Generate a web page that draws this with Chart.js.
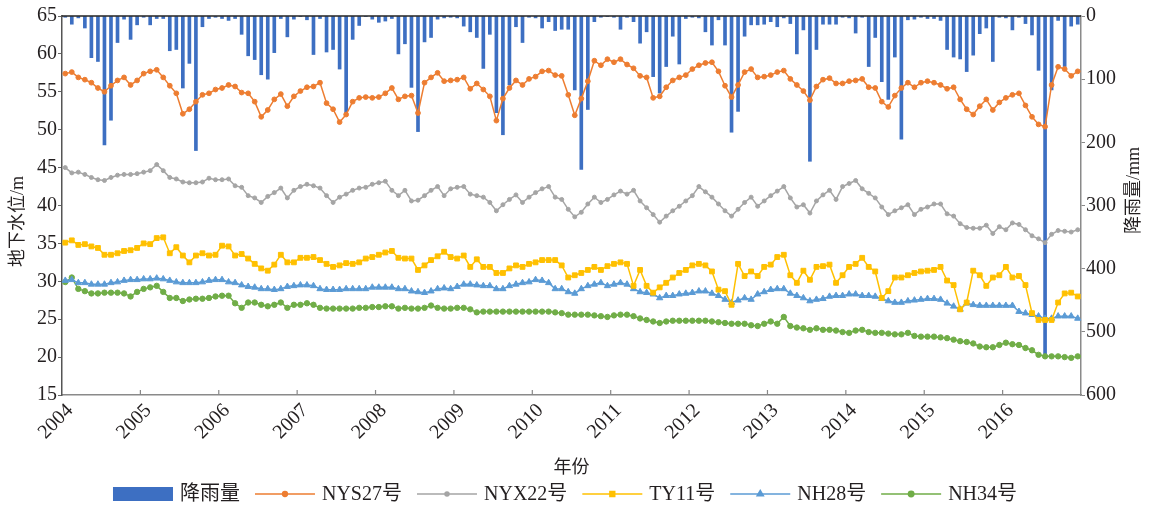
<!DOCTYPE html>
<html>
<head>
<meta charset="utf-8">
<script src="https://cdn.jsdelivr.net/npm/chart.js@4.4.1/dist/chart.umd.min.js"></script>
<style>
  html, body { margin: 0; padding: 0; background: #fff; }
  #wrap { width: 1154px; height: 510px; }
</style>
</head>
<body>
<div id="wrap"><canvas id="c" width="1154" height="510"></canvas></div>
<script>
// year ticks and monthly categories
const years = [2004, 2005, 2006, 2007, 2008, 2009, 2010, 2011, 2012, 2013, 2014, 2015, 2016];
const months = [];
years.forEach(y => { for (let m = 1; m <= 12; m++) months.push(y + '-' + String(m).padStart(2, '0')); });

// monthly rainfall, mm (right axis, reversed)
const rainfall = [
  2, 13, 3, 19, 66, 72, 204, 165, 42, 5, 37, 14,
  2, 14, 4, 4, 55, 53, 114, 75, 213, 17, 4, 2,
  4, 7, 4, 29, 63, 69, 93, 100, 58, 4, 33, 5,
  1, 6, 61, 4, 57, 53, 84, 154, 37, 15, 1, 5,
  10, 8, 4, 60, 44, 113, 183, 41, 34, 5, 3, 2,
  3, 16, 25, 34, 83, 29, 153, 188, 109, 17, 42, 2,
  3, 19, 9, 23, 21, 21, 117, 243, 148, 9, 2, 1,
  2, 21, 2, 9, 43, 25, 96, 122, 80, 32, 76, 4,
  2, 3, 25, 46, 6, 46, 184, 151, 32, 14, 14, 13,
  9, 17, 3, 12, 60, 22, 230, 53, 13, 13, 13, 2,
  3, 27, 2, 80, 34, 104, 132, 65, 195, 6, 5, 2,
  4, 4, 7, 53, 65, 68, 88, 62, 28, 19, 72, 2,
  3, 22, 2, 12, 30, 86, 535, 117, 7, 80, 16, 13
];

// groundwater levels, m (left axis)
const nys27 = [
  57.4, 57.6, 56.9, 56.6, 56.2, 55.5, 55.0, 55.8, 56.5, 56.9, 55.9, 56.5,
  57.4, 57.7, 57.9, 56.9, 55.8, 54.8, 52.1, 52.7, 53.7, 54.6, 54.8, 55.3,
  55.5, 55.9, 55.7, 54.9, 54.8, 53.7, 51.7, 52.6, 54.0, 54.7, 53.1, 54.4,
  55.1, 55.6, 55.7, 56.2, 53.5, 52.7, 51.0, 52.0, 53.7, 54.2, 54.3, 54.2,
  54.3, 54.8, 55.5, 54.0, 54.4, 54.5, 52.2, 56.2, 56.9, 57.5, 56.4, 56.5,
  56.6, 56.9, 55.4, 56.1, 55.3, 54.4, 51.2, 54.1, 55.5, 56.5, 55.9, 56.7,
  57.0, 57.7, 57.8, 57.2, 57.1, 54.6, 51.9, 54.1, 56.4, 59.1, 58.5, 59.3,
  58.9, 59.3, 58.6, 58.1, 57.1, 56.9, 54.2, 54.4, 55.6, 56.5, 56.9, 57.2,
  58.0, 58.5, 58.8, 58.9, 57.7, 55.8, 54.3, 55.9, 57.6, 58.0, 56.9, 57.0,
  57.2, 57.6, 57.8, 56.7, 55.9, 55.1, 53.9, 55.7, 56.6, 56.8, 56.1, 56.1,
  56.4, 56.5, 56.7, 55.6, 55.5, 53.7, 53.0, 54.5, 55.5, 56.2, 55.6, 56.2,
  56.4, 56.2, 55.9, 55.4, 55.6, 54.0, 52.7, 52.0, 53.1, 54.0, 52.6, 53.6,
  54.2, 54.6, 54.8, 53.2, 51.7, 50.7, 50.4, 55.9, 58.3, 58.0, 57.1, 57.7
];
const nyx22 = [
  45.0, 44.3, 44.4, 44.1, 43.7, 43.4, 43.3, 43.7, 44.0, 44.1, 44.1, 44.2,
  44.4, 44.6, 45.4, 44.6, 43.7, 43.5, 43.1, 43.0, 43.0, 43.1, 43.6, 43.4,
  43.4, 43.5, 42.6, 42.4, 41.3, 41.0, 40.4, 41.2, 41.7, 42.3, 41.0, 42.0,
  42.5, 42.8, 42.6, 42.3, 41.3, 40.4, 41.1, 41.5, 42.0, 42.3, 42.4, 42.8,
  43.0, 43.2, 42.0, 41.3, 42.0, 40.6, 40.7, 41.3, 42.0, 42.5, 41.3, 42.2,
  42.4, 42.5, 41.5, 41.3, 41.1, 40.4, 39.3, 40.1, 40.8, 41.4, 40.4, 41.1,
  41.7, 42.2, 42.5, 41.1, 40.8, 39.5, 38.5, 39.1, 40.2, 41.1, 40.4, 40.8,
  41.4, 41.9, 41.5, 42.0, 40.6, 39.7, 38.8, 37.8, 38.6, 39.3, 39.9, 40.6,
  41.3, 42.5, 41.8, 41.1, 40.2, 39.3, 38.6, 39.5, 40.4, 41.1, 39.9, 40.6,
  41.3, 41.9, 42.5, 41.0, 39.8, 40.1, 39.0, 40.6, 41.4, 42.0, 40.8, 42.5,
  42.9, 43.3, 42.2, 41.6, 41.0, 39.8, 38.8, 39.3, 39.7, 40.1, 38.8, 39.5,
  39.8, 40.2, 40.2, 38.9, 38.6, 37.6, 37.1, 37.0, 37.0, 37.4, 36.3, 37.2,
  36.8, 37.7, 37.5, 36.8, 36.0, 35.6, 35.1, 36.2, 36.7, 36.6, 36.5, 36.8
];
const ty11 = [
  35.1, 35.4, 34.8, 34.9, 34.6, 34.4, 33.5, 33.5, 33.7, 34.0, 34.1, 34.4,
  35.0, 34.9, 35.7, 35.8, 33.7, 34.5, 33.4, 32.5, 33.4, 33.7, 33.4, 33.5,
  34.7, 34.6, 33.4, 33.6, 33.0, 32.3, 31.7, 31.4, 32.2, 33.5, 32.5, 32.5,
  33.1, 33.1, 33.2, 32.8, 32.3, 31.9, 32.1, 32.4, 32.3, 32.5, 33.0, 33.2,
  33.5, 33.8, 34.0, 33.1, 33.0, 33.0, 31.5, 32.1, 32.8, 33.3, 33.9, 33.2,
  33.0, 33.4, 31.9, 32.9, 31.9, 31.9, 31.1, 31.1, 31.7, 32.1, 31.9, 32.3,
  32.5, 32.8, 32.8, 32.8, 32.1, 30.5, 30.8, 31.1, 31.5, 31.9, 31.5, 32.0,
  32.3, 32.5, 32.3, 29.4, 31.5, 29.4, 28.5, 29.2, 29.8, 30.5, 31.1, 31.5,
  32.1, 32.3, 32.1, 31.3, 28.9, 28.7, 26.9, 32.3, 30.7, 31.3, 30.7, 31.9,
  32.2, 33.2, 33.5, 30.8, 29.8, 31.4, 30.2, 31.9, 32.0, 32.2, 29.8, 30.8,
  31.9, 32.3, 33.1, 31.9, 31.3, 27.8, 28.7, 30.5, 30.5, 30.8, 31.1, 31.3,
  31.4, 31.5, 31.9, 30.1, 29.5, 26.3, 27.2, 31.4, 30.8, 29.4, 30.5, 30.8,
  31.9, 30.5, 30.7, 29.5, 25.8, 24.9, 24.9, 24.9, 27.2, 28.4, 28.5, 28.0
];
const nh28 = [
  30.1, 30.2, 29.8, 29.8, 29.6, 29.6, 29.6, 29.8, 29.9, 30.1, 30.2, 30.2,
  30.3, 30.3, 30.4, 30.3, 30.1, 29.9, 29.8, 29.8, 29.8, 29.9, 30.1, 30.2,
  30.2, 29.9, 29.8, 29.5, 29.3, 29.2, 29.0, 29.0, 28.9, 29.0, 29.3, 29.4,
  29.5, 29.5, 29.4, 29.0, 28.9, 28.9, 28.9, 29.0, 29.0, 29.0, 29.0, 29.2,
  29.2, 29.2, 29.2, 29.0, 29.0, 28.7, 28.6, 28.5, 28.7, 29.0, 29.1, 29.0,
  29.3, 29.6, 29.6, 29.5, 29.4, 29.4, 29.0, 29.0, 29.4, 29.6, 29.8, 29.9,
  30.2, 30.1, 29.8, 29.0, 29.0, 28.6, 28.4, 29.0, 29.4, 29.6, 29.8, 29.4,
  29.6, 29.8, 29.6, 29.0, 28.6, 28.5, 28.3, 27.8, 28.1, 28.1, 28.3, 28.4,
  28.5, 28.7, 28.7, 28.4, 28.1, 27.6, 27.2, 27.5, 27.8, 27.6, 28.3, 28.6,
  28.9, 29.0, 29.0, 28.4, 28.1, 27.8, 27.4, 27.6, 27.7, 28.0, 28.1, 28.1,
  28.3, 28.3, 28.1, 28.1, 28.0, 27.7, 27.4, 27.2, 27.2, 27.4, 27.5, 27.6,
  27.7, 27.7, 27.6, 27.1, 26.7, 26.3, 27.1, 26.9, 26.8, 26.8, 26.8, 26.8,
  26.8, 26.8, 26.0, 25.8, 25.6, 25.4, 25.1, 25.1, 25.4, 25.4, 25.4, 25.1
];
const nh34 = [
  29.9, 30.5, 29.0, 28.7, 28.4, 28.4, 28.5, 28.5, 28.5, 28.4, 28.0, 28.6,
  29.0, 29.2, 29.4, 28.6, 27.8, 27.8, 27.4, 27.6, 27.7, 27.7, 27.8, 28.0,
  28.1, 28.1, 27.1, 26.5, 27.2, 27.2, 26.9, 26.7, 26.9, 27.2, 26.5, 26.9,
  26.9, 27.1, 26.9, 26.5, 26.4, 26.4, 26.4, 26.4, 26.4, 26.5, 26.5, 26.6,
  26.6, 26.7, 26.7, 26.4, 26.5, 26.4, 26.4, 26.5, 26.8, 26.5, 26.4, 26.4,
  26.5, 26.5, 26.3, 25.9, 26.0, 26.0, 26.0, 26.0, 26.0, 26.0, 26.0, 26.0,
  26.0, 26.0, 26.0, 25.9, 25.8, 25.6, 25.6, 25.6, 25.6, 25.5, 25.4, 25.3,
  25.5, 25.6, 25.6, 25.4, 25.1, 24.9, 24.7, 24.5, 24.7, 24.8, 24.8, 24.8,
  24.8, 24.8, 24.8, 24.7, 24.6, 24.5, 24.4, 24.4, 24.4, 24.2, 24.1, 24.4,
  24.7, 24.4, 25.3, 24.1, 23.9, 23.8, 23.6, 23.8, 23.6, 23.6, 23.5, 23.3,
  23.2, 23.5, 23.6, 23.3, 23.2, 23.2, 23.1, 23.0, 23.0, 23.2, 22.8, 22.7,
  22.7, 22.7, 22.6, 22.5, 22.3, 22.1, 22.0, 21.8, 21.4, 21.3, 21.3, 21.6,
  21.9, 21.7, 21.6, 21.2, 20.9, 20.3, 20.1, 20.1, 20.1, 20.0, 19.9, 20.1
];

const FONT = '"Liberation Serif", "Times New Roman", "DejaVu Serif", "Noto Sans CJK SC", serif';
const TXT = '#231f20';

function lineSet(label, data, color, style, r) {
  return {
    type: 'line', label: label, data: data, yAxisID: 'y', order: 1,
    borderColor: color, backgroundColor: color, borderWidth: 1.5,
    pointStyle: style, pointRadius: r, pointBorderWidth: 1,
    pointBackgroundColor: color, pointBorderColor: color, tension: 0
  };
}

function vTitle(ctx, text, x, y) {
  ctx.save();
  ctx.fillStyle = TXT;
  ctx.font = '18px ' + FONT;
  ctx.textAlign = 'center'; ctx.textBaseline = 'middle';
  ctx.translate(x, y);
  ctx.rotate(-Math.PI / 2);
  ctx.fillText(text, 0, 0);
  ctx.restore();
}

// axis decorations, axis titles and legend drawn by hand
const decor = {
  id: 'decor',
  afterDraw(chart) {
    const ctx = chart.ctx, a = chart.chartArea;
    const mid = (a.top + a.bottom) / 2;
    ctx.save();
    // top frame line
    ctx.strokeStyle = '#222'; ctx.lineWidth = 1.5;
    ctx.beginPath(); ctx.moveTo(a.left, a.top); ctx.lineTo(a.right, a.top); ctx.stroke();
    // inside ticks on the year axis
    const ys = chart.scales.year;
    ctx.strokeStyle = '#888'; ctx.lineWidth = 1.2;
    ys.ticks.forEach(t => {
      const px = ys.getPixelForValue(t.value);
      if (px <= a.left + 1) return;
      ctx.beginPath(); ctx.moveTo(px, a.bottom); ctx.lineTo(px, a.bottom - 5); ctx.stroke();
    });
    ctx.restore();

    vTitle(ctx, '地下水位/m', 18, mid + 16);
    vTitle(ctx, '降雨量/mm', 1134, mid - 15);

    // legend
    ctx.save();
    ctx.font = '20px ' + FONT;
    ctx.textBaseline = 'middle'; ctx.textAlign = 'left';
    const items = chart.data.datasets.map(d => ({ d: d, w: 60 + 7 + ctx.measureText(d.label).width }));
    const gap = 15;
    const total = items.reduce((s, it) => s + it.w, 0) + gap * (items.length - 1);
    let x = chart.width / 2 - 12 - total / 2;
    const cy = 494;
    items.forEach(it => {
      const d = it.d;
      if (d.type === 'bar') {
        ctx.fillStyle = d.backgroundColor;
        ctx.fillRect(x, cy - 7, 60, 14);
      } else {
        ctx.strokeStyle = d.borderColor; ctx.lineWidth = 1.5;
        ctx.beginPath(); ctx.moveTo(x, cy); ctx.lineTo(x + 60, cy); ctx.stroke();
        ctx.fillStyle = d.borderColor;
        Chart.helpers.drawPoint(ctx, { pointStyle: d.pointStyle, radius: d.pointRadius, rotation: 0, borderWidth: 1 }, x + 30, cy);
        ctx.fill();
      }
      ctx.fillStyle = TXT;
      ctx.fillText(d.label, x + 67, cy + 1);
      x += it.w + gap;
    });
    ctx.restore();
  }
};

new Chart(document.getElementById('c'), {
  data: {
    labels: months,
    datasets: [
      { type: 'bar', label: '降雨量', data: rainfall, yAxisID: 'y1', order: 10,
        backgroundColor: '#3d6fc2', barThickness: 3 },
      lineSet('NYS27号', nys27, '#ed7d31', 'circle', 2.4),
      lineSet('NYX22号', nyx22, '#a5a5a5', 'circle', 2),
      lineSet('TY11号', ty11, '#ffc000', 'rect', 3.4),
      lineSet('NH28号', nh28, '#5b9bd5', 'triangle', 3.6),
      lineSet('NH34号', nh34, '#70ad47', 'circle', 2.7)
    ]
  },
  options: {
    responsive: false,
    animation: false,
    layout: { padding: { top: 16, bottom: 28, left: 0, right: 0 } },
    plugins: { legend: { display: false }, tooltip: { enabled: false } },
    scales: {
      x: { type: 'category', offset: true, display: false },
      year: {
        type: 'linear', position: 'bottom', min: 2004, max: 2017,
        afterBuildTicks: s => { s.ticks = years.map(v => ({ value: v })); },
        afterFit: s => { s.height = 87; },
        ticks: { autoSkip: false, minRotation: 45, maxRotation: 45, padding: 4, labelOffset: 8,
          color: TXT, font: { family: FONT, size: 20 }, callback: v => String(v) },
        grid: { drawOnChartArea: false, drawTicks: false },
        border: { color: '#8a8a8a', width: 1.5 },
        title: { display: true, text: '年份', color: TXT, font: { family: FONT, size: 18 },
          padding: { top: 0, bottom: 3 } }
      },
      y: {
        position: 'left', min: 15, max: 65,
        afterFit: s => { s.width = 62; },
        ticks: { stepSize: 5, padding: 1, color: TXT, font: { family: FONT, size: 20 } },
        grid: { drawOnChartArea: false, tickLength: 4, color: '#666' },
        border: { color: '#555', width: 1.5 }
      },
      y1: {
        position: 'right', min: 0, max: 600, reverse: true,
        afterFit: s => { s.width = 73; },
        ticks: { stepSize: 100, padding: 1, color: TXT, font: { family: FONT, size: 20 } },
        grid: { drawOnChartArea: false, tickLength: 4, color: '#888' },
        border: { color: '#8a8a8a', width: 1.5 }
      }
    }
  },
  plugins: [decor]
});
</script>
</body>
</html>
